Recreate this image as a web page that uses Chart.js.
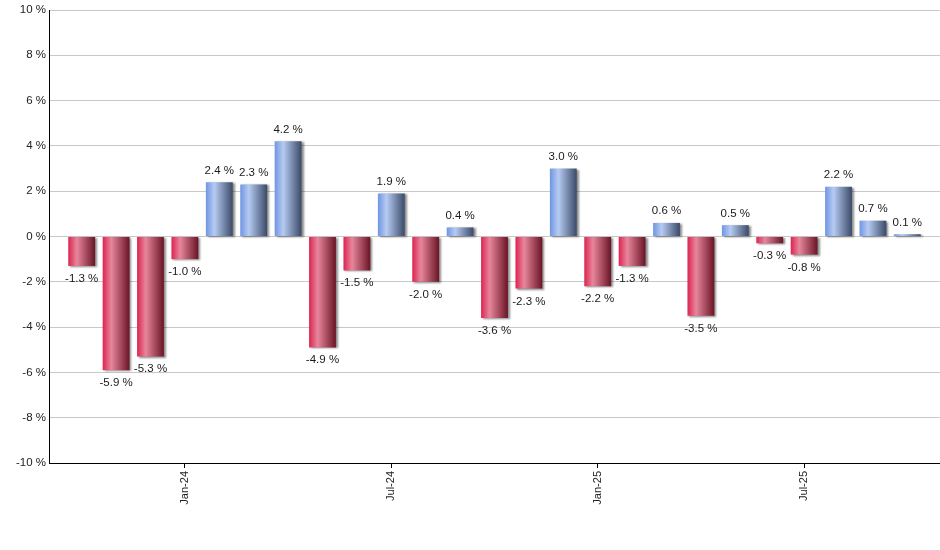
<!DOCTYPE html>
<html>
<head>
<meta charset="utf-8">
<script src="https://cdn.jsdelivr.net/npm/chart.js@4.4.0/dist/chart.umd.min.js"></script>
<style>
  html, body { margin: 0; padding: 0; background: #ffffff; }
  #wrap { width: 940px; height: 550px; }
</style>
</head>
<body>
<div id="wrap"><canvas id="c" width="940" height="550"></canvas></div>
<script>
const months = ['Oct-23','Nov-23','Dec-23','Jan-24','Feb-24','Mar-24','Apr-24','May-24','Jun-24','Jul-24','Aug-24','Sep-24','Oct-24','Nov-24','Dec-24','Jan-25','Feb-25','Mar-25','Apr-25','May-25','Jun-25','Jul-25','Aug-25','Sep-25','Oct-25'];
const returns = [-1.3,-5.9,-5.3,-1.0,2.4,2.3,4.2,-4.9,-1.5,1.9,-2.0,0.4,-3.6,-2.3,3.0,-2.2,-1.3,0.6,-3.5,0.5,-0.3,-0.8,2.2,0.7,0.1];
const shownTicks = ['Jan','Jul'];
const yTicks = [-10,-8,-6,-4,-2,0,2,4,6,8,10];

const BAR_PCT = 0.78;
const FONT = '"Liberation Sans", Arial, sans-serif';

function barGradient(ctx) {
  const chart = ctx.chart;
  const xs = chart.scales && chart.scales.x;
  const v = returns[ctx.dataIndex];
  const fallback = v < 0 ? '#c83a5a' : '#7d9ad6';
  if (!xs || ctx.dataIndex === undefined) return fallback;
  const cx = xs.getPixelForValue(ctx.dataIndex);
  const w = (xs.getPixelForValue(1) - xs.getPixelForValue(0)) * BAR_PCT;
  if (!isFinite(cx) || !isFinite(w) || w <= 0) return fallback;
  const g = chart.ctx.createLinearGradient(cx - w / 2, 0, cx + w / 2, 0);
  if (v < 0) {
    g.addColorStop(0, '#dc2450');
    g.addColorStop(0.32, '#e8869c');
    g.addColorStop(1, '#6a1426');
  } else {
    g.addColorStop(0, '#6f95e2');
    g.addColorStop(0.32, '#b6cbf2');
    g.addColorStop(1, '#3a4a68');
  }
  return g;
}

const shadowPlugin = {
  id: 'shadow',
  beforeDatasetsDraw(chart) {
    const c = chart.ctx;
    c.save();
    c.shadowColor = 'rgba(0,0,0,0.45)';
    c.shadowOffsetX = 2;
    c.shadowOffsetY = 1;
    c.shadowBlur = 2;
  },
  afterDatasetsDraw(chart) {
    chart.ctx.restore();
  }
};

const labelPlugin = {
  id: 'valueLabels',
  afterDatasetsDraw(chart) {
    const c = chart.ctx;
    const meta = chart.getDatasetMeta(0);
    c.save();
    c.font = '11.5px ' + FONT;
    c.fillStyle = '#1a1a1a';
    c.textAlign = 'center';
    meta.data.forEach((bar, i) => {
      const v = returns[i];
      const txt = v.toFixed(1) + ' %';
      if (v >= 0) {
        c.textBaseline = 'bottom';
        c.fillText(txt, bar.x, bar.y - 6);
      } else {
        c.textBaseline = 'top';
        c.fillText(txt, bar.x, bar.y + 7);
      }
    });
    c.restore();
  }
};

const chart = new Chart(document.getElementById('c'), {
  type: 'bar',
  data: {
    labels: months,
    datasets: [{
      data: returns.map((v, i) => ({ x: i, y: v })),
      backgroundColor: barGradient,
      borderWidth: 0,
      barPercentage: BAR_PCT,
      categoryPercentage: 1.0
    }]
  },
  options: {
    responsive: false,
    animation: false,
    devicePixelRatio: 1,
    layout: { padding: { top: 10, right: 0, left: 0, bottom: 0 } },
    plugins: {
      legend: { display: false },
      tooltip: { enabled: false }
    },
    scales: {
      x: {
        type: 'linear',
        min: -0.95,
        max: months.length - 0.05,
        offset: false,
        grid: {
          offset: false,
          drawOnChartArea: false,
          drawTicks: true,
          tickLength: 5,
          color: '#000000'
        },
        border: { display: true, color: '#000000', width: 1 },
        afterBuildTicks: (s) => {
          s.ticks = months
            .map((m, i) => ({ m, i }))
            .filter(o => shownTicks.includes(o.m.slice(0, 3)))
            .map(o => ({ value: o.i }));
        },
        ticks: {
          autoSkip: false,
          minRotation: 90,
          maxRotation: 90,
          padding: 3,
          color: '#222222',
          font: { size: 11, family: FONT },
          callback: (val) => months[val]
        },
        afterFit: (s) => { s.height = 87; }
      },
      y: {
        min: -10,
        max: 10,
        grid: {
          color: '#c8c8c8',
          drawTicks: false,
          lineWidth: 1
        },
        border: { display: true, color: '#000000', width: 1 },
        afterBuildTicks: (s) => { s.ticks = yTicks.map(v => ({ value: v })); },
        ticks: {
          padding: 3,
          color: '#222222',
          font: { size: 11.5, family: FONT },
          callback: (v) => v + ' %'
        },
        afterFit: (s) => { s.width = 49; }
      }
    }
  },
  plugins: [shadowPlugin, labelPlugin]
});
chart.update();
</script>
</body>
</html>
